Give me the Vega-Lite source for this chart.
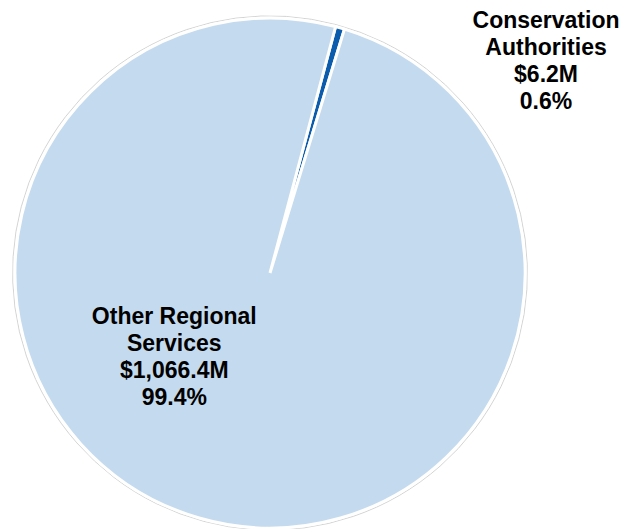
{
  "$schema": "https://vega.github.io/schema/vega-lite/v6.json",
  "autosize": "none",
  "width": 540,
  "height": 510,
  "padding": {"top": 18, "left": 0, "right": 86, "bottom": 1},
  "background": "white",
  "view": {"stroke": null},
  "data": {
    "values": [
      {"category": "Conservation Authorities", "value": 6.2, "label": "Conservation\nAuthorities\n$6.2M\n0.6%"},
      {"category": "Other Regional Services", "value": 1066.4, "label": "Other Regional\nServices\n$1,066.4M\n99.4%"}
    ]
  },
  "layer": [
    {
      "transform": [{"aggregate": [{"op": "sum", "field": "value", "as": "total"}]}],
      "mark": {"type": "arc", "radius": 257, "fill": null, "stroke": "#d4d4d4", "strokeWidth": 1},
      "encoding": {
        "theta": {"field": "total", "type": "quantitative", "scale": {"range": [0.26, 6.5432]}}
      }
    },
    {
      "mark": {"type": "arc", "radius": 255, "stroke": "white", "strokeWidth": 3},
      "encoding": {
        "theta": {"field": "value", "type": "quantitative", "stack": true, "scale": {"range": [0.26, 6.5432]}},
        "color": {
          "field": "category", "type": "nominal",
          "scale": {"domain": ["Conservation Authorities", "Other Regional Services"], "range": ["#0B5CAD", "#C4DAEE"]},
          "legend": null
        }
      }
    },
    {
      "mark": {"type": "text", "radius": 90, "dx": -71, "dy": -35.5, "align": "center", "baseline": "alphabetic", "lineBreak": "\n", "lineHeight": 27, "font": "Liberation Sans", "fontWeight": "bold", "fontSize": 23, "color": "black"},
      "encoding": {
        "theta": {"field": "value", "type": "quantitative", "stack": true},
        "detail": {"field": "category", "type": "nominal"},
        "text": {"condition": {"test": "datum.category === 'Other Regional Services'", "field": "label"}, "value": ""}
      }
    },
    {
      "mark": {"type": "text", "radius": 255, "dx": 206, "dy": 0, "align": "center", "baseline": "alphabetic", "lineBreak": "\n", "lineHeight": 27, "font": "Liberation Sans", "fontWeight": "bold", "fontSize": 23, "color": "black"},
      "encoding": {
        "theta": {"field": "value", "type": "quantitative", "stack": true},
        "detail": {"field": "category", "type": "nominal"},
        "text": {"condition": {"test": "datum.category === 'Conservation Authorities'", "field": "label"}, "value": ""}
      }
    }
  ]
}
